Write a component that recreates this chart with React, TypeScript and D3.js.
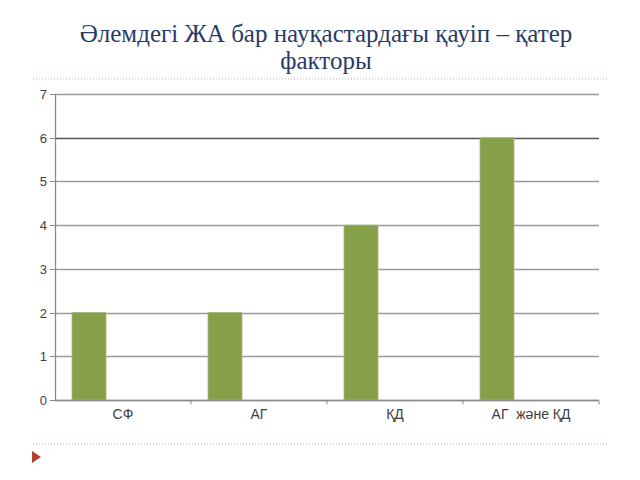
import React from 'react'
import * as d3 from 'd3'

const categories = ['СФ', 'АГ', 'ҚД', 'АГ  және ҚД']
const values = [2, 2, 4, 6]
const yTicks = [0, 1, 2, 3, 4, 5, 6, 7]
const titleLines = ['Әлемдегі ЖА бар науқастардағы қауіп – қатер', 'факторы']

const width = 640
const height = 480
const margin = { top: 94, right: 41, bottom: 80, left: 55 }

const serif = 'Liberation Serif'
const sans = 'Liberation Sans'

export default function App() {
    const x = d3.scaleBand<string>()
        .domain(categories)
        .range([margin.left, width - margin.right])
        .paddingInner(0)
        .paddingOuter(0)
    const y = d3.scaleLinear()
        .domain([0, 7])
        .range([height - margin.bottom, margin.top])

    // clustered slot of three, gap width 100%
    const slot = x.bandwidth() / 4
    const py = (v: number) => Math.round(y(v)) + 0.5
    const axisColor = '#8a8a8a'

    return (
        <div style={{ position: 'absolute', left: 0, top: 0 }}>
            <svg width={width} height={height} style={{ display: 'block', background: '#fff' }}>
                {/* title */}
                {titleLines.map((t, i) => (
                    <text key={i} x={326} y={42 + i * 27} textAnchor="middle"
                        fontFamily={serif} fontSize={25} fill="#2a3a68">{t}</text>
                ))}

                {/* dotted separators */}
                {[79, 444].map(s => (
                    <line key={s} x1={33} x2={608} y1={s} y2={s}
                        stroke="#e0a0a0" strokeWidth={1} strokeDasharray="1,2" />
                ))}
                <path d="M32,451 L41,457 L32,463 Z" fill="#b0402f" />

                {/* gridlines */}
                {yTicks.map(t => (
                    <line key={t} x1={margin.left} x2={width - margin.right} y1={py(t)} y2={py(t)}
                        stroke={t === 6 ? '#555' : '#9a9a9a'} strokeWidth={1.3} />
                ))}

                {/* bars */}
                {values.map((v, i) => (
                    <rect key={i}
                        x={(x(categories[i]) as number) + slot / 2}
                        width={slot}
                        y={y(v)}
                        height={y(0) - y(v)}
                        fill="#86a04a" stroke="#a4b97a" strokeWidth={0.8} />
                ))}

                {/* y axis */}
                <line x1={margin.left + 0.5} x2={margin.left + 0.5} y1={py(7)} y2={py(0)}
                    stroke={axisColor} strokeWidth={1.3} />
                {yTicks.map(t => (
                    <g key={t}>
                        <line x1={margin.left - 5} x2={margin.left} y1={py(t)} y2={py(t)} stroke={axisColor} />
                        <text x={margin.left - 8} y={py(t) + 4.5} textAnchor="end"
                            fontFamily={sans} fontSize={13} fill="#404040">{t}</text>
                    </g>
                ))}

                {/* x axis */}
                <line x1={margin.left} x2={width - margin.right} y1={py(0)} y2={py(0)}
                    stroke={axisColor} strokeWidth={1.3} />
                {categories.map(c => (
                    <g key={c}>
                        <line x1={(x(c) as number) + x.bandwidth()} x2={(x(c) as number) + x.bandwidth()}
                            y1={py(0)} y2={py(0) + 4} stroke={axisColor} />
                        <text x={(x(c) as number) + x.bandwidth() / 2} y={py(0) + 18} textAnchor="middle"
                            fontFamily={sans} fontSize={14} fill="#404040" xmlSpace="preserve">{c}</text>
                    </g>
                ))}
            </svg>
        </div>
    )
}
